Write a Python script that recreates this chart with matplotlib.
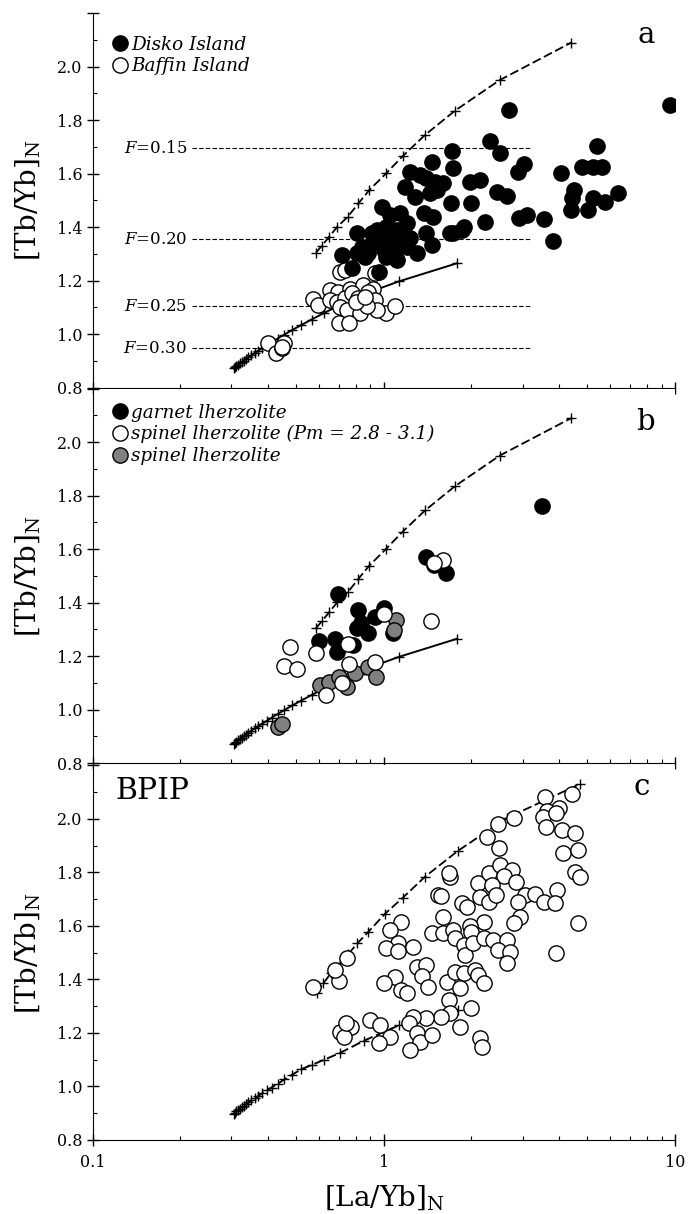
import numpy as np
import matplotlib.pyplot as plt
from matplotlib.lines import Line2D
from matplotlib.ticker import FixedLocator, LogLocator, NullFormatter

plt.rcParams['font.family'] = ['DejaVu Serif']
plt.rcParams['mathtext.fontset'] = 'dejavuserif'
plt.rcParams['mathtext.default'] = 'regular'

# --- melting model curves (panels a, b) ---
grt_x = [0.585, 0.612, 0.650, 0.693, 0.752, 0.818, 0.892, 1.018, 1.162, 1.386, 1.757, 2.50, 4.40]
grt_y = [1.305, 1.330, 1.365, 1.402, 1.439, 1.489, 1.539, 1.601, 1.666, 1.745, 1.836, 1.950, 2.090]
spl_x = [0.305, 0.308, 0.312, 0.316, 0.320, 0.325, 0.330, 0.336, 0.343, 0.351, 0.36, 0.37, 0.382,
         0.396, 0.412, 0.432, 0.456, 0.485, 0.52, 0.565, 0.625, 0.71, 0.855, 1.13, 1.78]
spl_y = [0.872, 0.876, 0.881, 0.886, 0.891, 0.896, 0.901, 0.907, 0.914, 0.922, 0.930, 0.938, 0.948,
         0.958, 0.970, 0.984, 0.999, 1.016, 1.034, 1.055, 1.080, 1.110, 1.150, 1.198, 1.265]

# --- melting model curves (panel c) ---
grt_c_x = [0.588, 0.62, 0.66, 0.705, 0.755, 0.812, 0.885, 1.009, 1.161, 1.386, 1.794, 2.64, 4.72]
grt_c_y = [1.350, 1.385, 1.425, 1.460, 1.495, 1.535, 1.578, 1.645, 1.705, 1.784, 1.880, 2.003, 2.131]
spl_c_x = [0.305, 0.308, 0.312, 0.316, 0.320, 0.325, 0.330, 0.336, 0.343, 0.351, 0.36, 0.37, 0.382,
           0.396, 0.412, 0.432, 0.456, 0.485, 0.52, 0.565, 0.625, 0.71, 0.855, 1.13, 1.80]
spl_c_y = [0.898, 0.902, 0.907, 0.912, 0.917, 0.922, 0.927, 0.933, 0.940, 0.948, 0.956, 0.964, 0.974,
           0.985, 0.996, 1.010, 1.026, 1.044, 1.064, 1.080, 1.100, 1.126, 1.171, 1.229, 1.286]

# --- degree of melting reference lines (panel a) ---
F_labels = ['0.15', '0.20', '0.25', '0.30']
F_levels = [1.695, 1.356, 1.105, 0.947]

# --- panel a ---
disko_x = [2.69, 9.6, 2.32, 2.51, 5.41, 3.04, 2.90, 4.06, 4.78, 5.24, 5.60, 4.51, 4.42, 4.38, 5.24,
           5.75, 6.36, 5.04, 2.44, 2.64, 2.92, 3.11, 3.55, 3.80, 2.23, 2.00, 1.98, 2.14, 1.89, 1.73,
           1.70, 1.73, 1.72, 1.46,
           1.23, 1.33, 1.40, 1.50, 1.60, 1.18, 1.28, 1.44, 1.52, 1.37, 1.48, 1.40, 1.46, 1.69, 1.85, 1.30,
           0.984, 1.05, 1.14, 0.946, 1.02, 1.11, 1.20, 0.971, 1.05, 1.14, 1.23, 0.909, 1.00, 1.09, 1.20,
           1.11, 1.02, 0.885, 0.812, 0.807, 0.717, 0.776, 0.862, 0.840, 0.966, 0.909]
disko_y = [1.838, 1.858, 1.724, 1.676, 1.705, 1.636, 1.608, 1.601, 1.624, 1.624, 1.624, 1.539, 1.508, 1.464, 1.508,
           1.495, 1.527, 1.464, 1.533, 1.517, 1.433, 1.446, 1.431, 1.350, 1.421, 1.489, 1.570, 1.577, 1.400, 1.380,
           1.489, 1.620, 1.686, 1.645,
           1.608, 1.595, 1.583, 1.570, 1.564, 1.551, 1.514, 1.527, 1.539, 1.452, 1.439, 1.377, 1.334, 1.377, 1.390, 1.302,
           1.474, 1.446, 1.452, 1.390, 1.402, 1.390, 1.414, 1.352, 1.358, 1.365, 1.358, 1.340, 1.315, 1.321, 1.327,
           1.277, 1.290, 1.302, 1.377, 1.302, 1.296, 1.246, 1.290, 1.327, 1.234, 1.377]
baffin_x = [0.708, 0.736, 0.933, 0.654, 0.698, 0.766, 0.851, 0.921, 0.573, 0.596, 0.654, 0.689, 0.736,
            0.776, 0.818, 0.885, 0.933, 0.708, 0.746, 0.829, 1.02, 1.09, 0.946, 0.704, 0.762, 0.878,
            0.80, 0.86, 0.401, 0.428, 0.453, 0.448, 0.446]
baffin_y = [1.234, 1.240, 1.230, 1.165, 1.159, 1.171, 1.184, 1.169, 1.130, 1.109, 1.128, 1.122, 1.134,
            1.153, 1.134, 1.159, 1.128, 1.103, 1.090, 1.078, 1.078, 1.105, 1.090, 1.043, 1.041, 1.105,
            1.120, 1.140, 0.968, 0.931, 0.966, 0.947, 0.953]

# --- panel b ---
garnet_x = [3.48, 0.697, 1.40, 1.63, 0.816, 0.931, 1.00, 0.598, 0.681, 0.692, 0.782, 0.810, 0.884,
            0.833, 1.078, 1.49]
garnet_y = [1.763, 1.433, 1.572, 1.510, 1.373, 1.348, 1.379, 1.258, 1.263, 1.217, 1.242, 1.305, 1.288,
            1.323, 1.286, 1.541]
spinel_pm_x = [1.60, 1.49, 1.455, 1.00, 0.475, 0.456, 0.502, 0.586, 0.756, 0.761, 0.717, 0.635, 0.931]
spinel_pm_y = [1.560, 1.550, 1.330, 1.358, 1.236, 1.165, 1.151, 1.211, 1.246, 1.171, 1.101, 1.055, 1.177]
spinel_x = [0.433, 0.447, 0.603, 0.646, 0.700, 0.748, 0.796, 0.883, 0.937, 1.10, 1.08]
spinel_y = [0.937, 0.947, 1.093, 1.105, 1.124, 1.086, 1.136, 1.161, 1.124, 1.336, 1.298]

# --- panel c (BPIP) ---
bpip_x = [4.42, 3.58, 4.01, 3.63, 3.53, 3.91, 2.81, 2.46, 2.26, 2.49, 3.61, 4.08, 4.54, 4.12, 4.66,
          4.54, 4.72, 4.66, 3.91,
          1.69, 1.67, 1.54, 1.57, 1.85, 1.93, 2.11, 2.29, 2.51, 2.75, 2.58, 2.85, 2.35, 2.14, 2.29,
          2.43, 3.06, 3.31, 3.55, 3.93, 3.87, 2.90, 2.94, 2.79, 2.20, 1.98, 2.00, 1.60, 1.46, 1.60,
          1.73, 1.76, 1.88, 1.90, 2.03, 2.20, 2.38, 2.64, 2.47, 2.71, 2.64,
          1.15, 1.05, 1.12, 1.02, 1.12, 1.26, 1.30, 1.40, 1.35, 1.42, 1.09, 1.00, 1.15, 1.20, 1.65,
          1.76, 1.88, 2.06, 2.11, 2.20, 1.83, 1.67, 2.00, 1.69, 1.57, 1.40, 1.26, 1.22, 1.30, 1.33,
          1.46, 1.23, 1.05, 0.96, 0.90, 0.97, 0.77, 0.71, 0.73, 0.74, 1.83, 2.14, 2.17,
          0.57, 0.70, 0.68, 0.75]
bpip_y = [2.093, 2.083, 2.040, 2.031, 2.009, 2.021, 2.003, 1.980, 1.934, 1.890, 1.971, 1.959, 1.949, 1.874, 1.884,
          1.803, 1.784, 1.610, 1.498,
          1.782, 1.797, 1.716, 1.712, 1.685, 1.672, 1.760, 1.797, 1.828, 1.809, 1.787, 1.766, 1.753, 1.710, 1.691,
          1.716, 1.716, 1.720, 1.691, 1.735, 1.685, 1.691, 1.635, 1.610, 1.616, 1.598, 1.579, 1.635, 1.573, 1.575,
          1.585, 1.554, 1.529, 1.492, 1.535, 1.554, 1.548, 1.548, 1.510, 1.504, 1.460,
          1.616, 1.585, 1.535, 1.517, 1.508, 1.523, 1.448, 1.454, 1.411, 1.373, 1.408, 1.386, 1.361, 1.348, 1.392,
          1.429, 1.423, 1.436, 1.417, 1.386, 1.367, 1.323, 1.292, 1.274, 1.261, 1.255, 1.261, 1.236, 1.199, 1.168,
          1.193, 1.137, 1.186, 1.161, 1.249, 1.230, 1.224, 1.205, 1.186, 1.236, 1.224, 1.180, 1.149,
          1.373, 1.394, 1.436, 1.482]

fig = plt.figure(figsize=(6.89, 12.14), dpi=100)
left, width, height = 0.1343, 0.8454, 0.3085
axes = [fig.add_axes([left, b, width, height]) for b in (0.6806, 0.3713, 0.0610)]

dash = (0, (5, 2))
circ = dict(ls='none', marker='o', ms=11, mew=1.0, mec='black', zorder=3)
leg_kw = dict(loc='upper left', frameon=False, handlelength=1.0, handletextpad=0.1, borderpad=0,
              borderaxespad=0, labelspacing=0.19, prop={'style': 'italic', 'size': 13.2})


def style(ax, show_x):
    ax.set_xscale('log')
    ax.set_xlim(0.1, 10)
    ax.set_ylim(0.8, 2.2)
    for s in ('top', 'right'):
        ax.spines[s].set_visible(False)
    ax.set_yticks(np.arange(0.8, 2.25, 0.2))
    ax.set_yticklabels(['0.8', '1.0', '1.2', '1.4', '1.6', '1.8', '2.0', ''])
    ax.set_yticks(np.arange(0.9, 2.2, 0.2), minor=True)
    ax.xaxis.set_major_locator(FixedLocator([0.1, 1, 10]))
    ax.xaxis.set_minor_locator(LogLocator(base=10, subs=range(2, 10), numticks=20))
    ax.xaxis.set_minor_formatter(NullFormatter())
    if show_x:
        ax.set_xticklabels(['0.1', '1', '10'])
    else:
        ax.set_xticklabels([])
    ax.tick_params(which='major', direction='inout', length=8, width=1, labelsize=11.5, pad=3)
    ax.tick_params(axis='x', which='major', pad=6)
    ax.tick_params(which='minor', direction='in', length=3, width=0.8)
    ax.text(-0.111, 0.5, r'[Tb/Yb]$_{N}$', transform=ax.transAxes, rotation=90,
            ha='center', va='center', fontsize=20)


def curves(ax, ux, uy, lx, ly, lower_style):
    ax.plot(ux, uy, color='black', lw=1.3, ls=dash, marker='+', ms=7.5, mew=1, zorder=2)
    ax.plot(lx, ly, color='black', lw=1.4, ls=lower_style, marker='+', ms=7.5, mew=1, zorder=2)


# panel a
ax = axes[0]
style(ax, False)
curves(ax, grt_x, grt_y, spl_x, spl_y, '-')
ax.hlines(F_levels, 0.22, 3.2, colors='black', lw=0.8, linestyles=(0, (4, 2)), zorder=1)
for lab, lev in zip(F_labels, F_levels):
    ax.text(0.211, lev, r'$\mathit{F}$=' + lab, ha='right', va='center', fontsize=12)
ax.plot(baffin_x, baffin_y, mfc='white', **circ)
ax.plot(disko_x, disko_y, mfc='black', **circ)
h = [Line2D([], [], mfc='black', **circ), Line2D([], [], mfc='white', **circ)]
ax.legend(h, ['Disko Island', 'Baffin Island'], bbox_to_anchor=(0.032, 0.9397), **leg_kw)
ax.text(0.950, 0.92, 'a', transform=ax.transAxes, ha='center', va='baseline', fontsize=21)

# panel b
ax = axes[1]
style(ax, False)
curves(ax, grt_x, grt_y, spl_x, spl_y, '-')
ax.plot(garnet_x, garnet_y, mfc='black', **circ)
ax.plot(spinel_x, spinel_y, mfc='#808080', **circ)
ax.plot(spinel_pm_x, spinel_pm_y, mfc='white', **circ)
h = [Line2D([], [], mfc='black', **circ), Line2D([], [], mfc='white', **circ),
     Line2D([], [], mfc='#808080', **circ)]
ax.legend(h, ['garnet lherzolite', 'spinel lherzolite (Pm = 2.8 - 3.1)', 'spinel lherzolite'],
          bbox_to_anchor=(0.032, 0.96), **leg_kw)
ax.text(0.950, 0.89, 'b', transform=ax.transAxes, ha='center', va='baseline', fontsize=21)

# panel c
ax = axes[2]
style(ax, True)
curves(ax, grt_c_x, grt_c_y, spl_c_x, spl_c_y, dash)
ax.plot(bpip_x, bpip_y, mfc='white', **circ)
ax.text(0.0386, 0.91, 'BPIP', transform=ax.transAxes, ha='left', va='baseline', fontsize=21.5)
ax.text(0.943, 0.921, 'c', transform=ax.transAxes, ha='center', va='baseline', fontsize=21)

fig.text(0.557, 0.014, r'[La/Yb]$_{N}$', ha='center', va='center', fontsize=20)

fig.savefig('out.png', dpi=100)
